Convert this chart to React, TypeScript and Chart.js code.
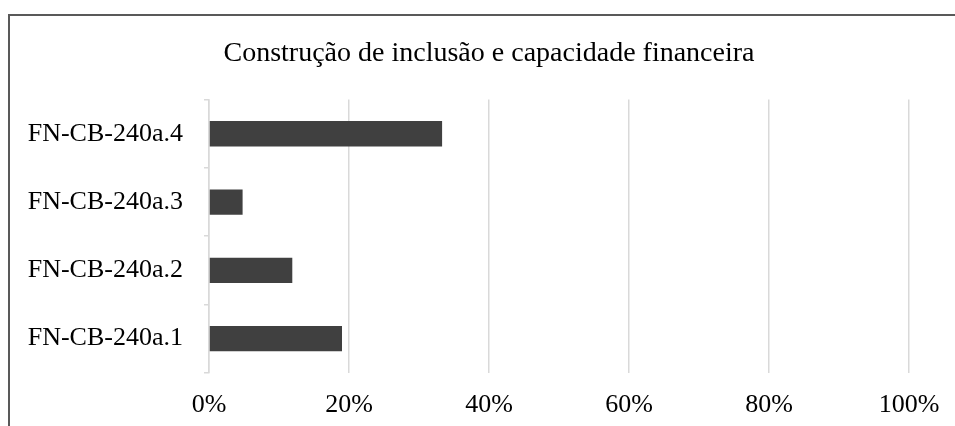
import React, { useEffect, useRef } from 'react';
import { Chart, registerables } from 'chart.js';

Chart.register(...registerables);

const title = 'Construção de inclusão e capacidade financeira';
const categories = ['FN-CB-240a.4', 'FN-CB-240a.3', 'FN-CB-240a.2', 'FN-CB-240a.1'];
const values = [33.3, 4.8, 11.9, 19.0];
const xMin = 0;
const xMax = 100;
const xStep = 20;

const FONT = "'Times New Roman', 'Liberation Serif', serif";

const borderPlugin = {
  id: 'outerBorder',
  afterDraw(chart: any) {
    const ctx = chart.ctx;
    ctx.save();
    ctx.strokeStyle = '#595959';
    ctx.lineWidth = 2;
    ctx.strokeRect(1, 1, chart.width - 2, chart.height - 2);
    ctx.restore();
  },
};

export default function App() {
  const ref = useRef<HTMLCanvasElement | null>(null);
  useEffect(() => {
    if (!ref.current) return;
    const chart = new Chart(ref.current, {
      type: 'bar',
      data: {
        labels: categories,
        datasets: [
          {
            data: values,
            backgroundColor: '#404040',
            borderWidth: 0,
            barPercentage: 1,
            categoryPercentage: 0.37,
          },
        ],
      },
      options: {
        indexAxis: 'y',
        animation: false,
        responsive: false,
        layout: { padding: { left: 0, right: 0, top: 0, bottom: 16 } },
        plugins: {
          legend: { display: false },
          tooltip: { enabled: false },
          title: {
            display: true,
            text: title,
            color: '#000000',
            font: { family: FONT, size: 28, weight: 'normal', lineHeight: 1.2 },
            padding: { top: 23, bottom: 29 },
          },
        },
        scales: {
          x: {
            min: xMin,
            max: xMax,
            afterFit: (scale: any) => {
              scale.paddingRight = 61;
            },
            ticks: {
              stepSize: xStep,
              color: '#000000',
              font: { family: FONT, size: 26 },
              padding: 17,
              maxRotation: 0,
              callback: (v: any) => v + '%',
            },
            grid: { color: '#d9d9d9', lineWidth: 1.5, drawTicks: false },
            border: { display: false },
          },
          y: {
            afterFit: (scale: any) => {
              scale.width = 201;
            },
            ticks: {
              color: '#000000',
              font: { family: FONT, size: 26 },
              padding: 21,
            },
            grid: {
              drawOnChartArea: false,
              drawTicks: true,
              tickLength: 5,
              color: '#d9d9d9',
              lineWidth: 1.5,
            },
            border: { display: true, color: '#d9d9d9', width: 1.5 },
          },
        },
      },
      plugins: [borderPlugin],
    });
    return () => chart.destroy();
  }, []);

  return (
    <div style={{ position: 'fixed', inset: 0, overflow: 'hidden', background: '#fff' }}>
      <div style={{ position: 'absolute', left: 8, top: 14, width: 962, height: 440 }}>
        <canvas ref={ref} width={962} height={440} style={{ display: 'block' }} />
      </div>
    </div>
  );
}
